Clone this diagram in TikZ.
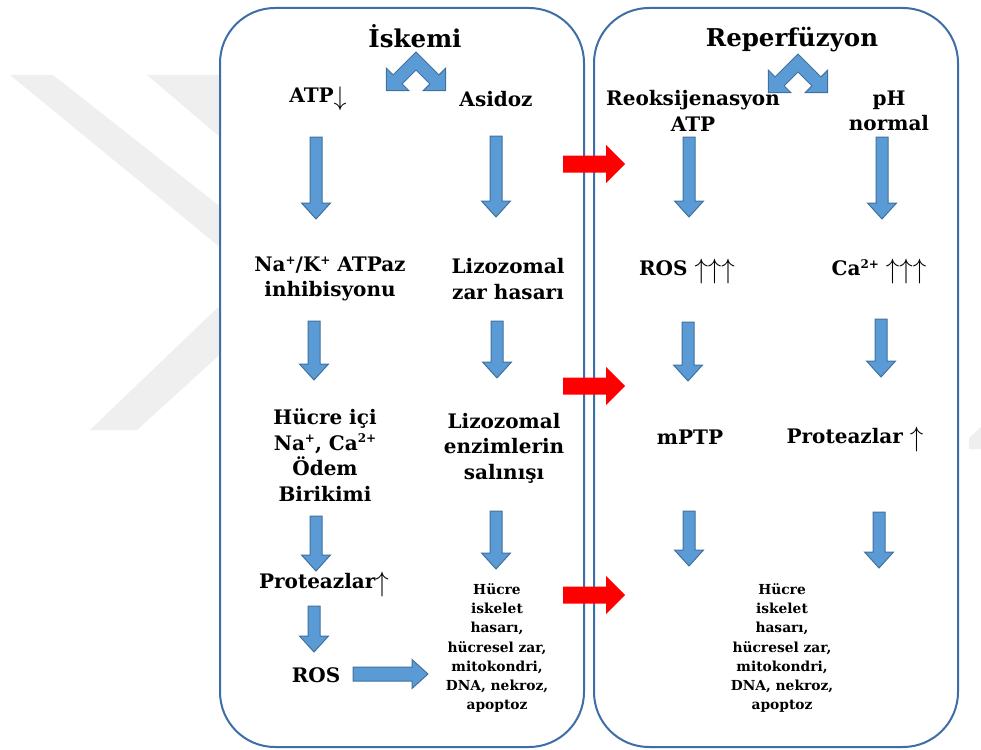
\documentclass[tikz,border=0pt]{standalone}
\usepackage{fontspec}
\usepackage{graphicx}
\setmainfont{DejaVu Serif}
\definecolor{barfill}{HTML}{5B9BD5}
\definecolor{barline}{HTML}{41719C}
\definecolor{panelline}{HTML}{3E6EA8}
\definecolor{wmark}{HTML}{EFEFEF}
\newcommand\bodyfs{\fontsize{20}{25.5}\selectfont\bfseries}
\newcommand\titlefs{\fontsize{24.5}{28}\selectfont\bfseries}
\newcommand\smallfs{\fontsize{13.8}{19.3}\selectfont\bfseries}
\newcommand\uarr{\raisebox{-0.12em}{\scalebox{1.3}[1.35]{$\uparrow$}}}
\newcommand\darr{\raisebox{-0.15em}{\scalebox{1.25}[1.3]{$\downarrow$}}}
\newcommand\supx[1]{\raisebox{0.36em}{\fontsize{12}{12}\selectfont #1}}
\newcommand\mkdown[3]{% x, ytop, ybottom
  \draw[blockarrow] ({#1-6},{#2}) -- ({#1+6},{#2}) -- ({#1+6},{#3-16}) -- ({#1+14.5},{#3-16})
    -- ({#1},{#3}) -- ({#1-14.5},{#3-16}) -- ({#1-6},{#3-16}) -- cycle;}
\newcommand\mkred[3]{% xstart, xtip, y
  \fill[red] ({#1},{#3-8.5}) -- ({#2-19},{#3-8.5}) -- ({#2-19},{#3-19}) -- ({#2},{#3})
    -- ({#2-19},{#3+19}) -- ({#2-19},{#3+8.5}) -- ({#1},{#3+8.5}) -- cycle;}
\newcommand\mkchev[2]{% cx, ytop
  \draw[blockarrow] ({#1},{#2}) -- ({#1-22.9},{#2+22.9}) -- ({#1-29.7},{#2+16.1}) -- ({#1-29.7},{#2+38.7})
    -- ({#1-7.1},{#2+38.7}) -- ({#1-13.9},{#2+31.9}) -- ({#1},{#2+18}) -- ({#1+13.9},{#2+31.9})
    -- ({#1+7.1},{#2+38.7}) -- ({#1+29.7},{#2+38.7}) -- ({#1+29.7},{#2+16.1}) -- ({#1+22.9},{#2+22.9}) -- cycle;}
\begin{document}
\begin{tikzpicture}[x=1pt,y=-1pt,
  blockarrow/.style={fill=barfill,draw=barline,line width=1pt,line join=miter},
  panel/.style={draw=panelline,line width=2pt,fill=white,rounded corners=55pt},
  body/.style={font=\bodyfs,align=center,inner sep=0pt,anchor=center},
  ttl/.style={font=\titlefs,align=center,inner sep=0pt},
  small/.style={font=\smallfs,align=center,inner sep=0pt}]
\useasboundingbox (0,0) rectangle (981,749);
\fill[white] (0,0) rectangle (981,749);
% watermark
\fill[wmark] (10,75) -- (53,75) -- (260,238) -- (260,280) -- cycle;
\fill[wmark] (147,75) -- (260,75) -- (260,171) -- cycle;
\fill[wmark] (90,430) -- (137,430) -- (260,318) -- (260,267) -- cycle;
\fill[wmark] (969,438) -- (981,427) -- (981,449) -- (969,449) -- cycle;
% panels
\draw[panel] (220,8) rectangle (584,747);
\draw[panel] (594,8) rectangle (958,747);
% titles
\node[ttl] (isk) at (415,36) {İskemi};
\node[ttl] (rep) at (792,40) {Reperfüzyon};
\mkchev{416}{52}
\mkchev{798}{54}
% left panel texts
\node[body] (atp) at (318,99) {ATP\darr};
\node[body] (asi) at (496,99) {Asidoz};
\node[body] (nak) at (330,279) {Na\supx{+}/K\supx{+} ATPaz\\inhibisyonu};
\node[body] (liz1) at (508,279) {Lizozomal\\zar hasarı};
\node[body] (hic) at (325,455) {Hücre içi\\Na\supx{+}, Ca\supx{2+}\\Ödem\\Birikimi};
\node[body] (liz2) at (504,448) {Lizozomal\\enzimlerin\\salınışı};
\node[body] (pro1) at (324,584) {Proteazlar\uarr};
\node[body] (ros1) at (316,675) {ROS};
\node[small] (dmg1) at (497,648) {Hücre\\iskelet\\hasarı,\\hücresel zar,\\mitokondri,\\DNA, nekroz,\\apoptoz};
% right panel texts
\node[body] (reo) at (693,111) {Reoksijenasyon\\ATP};
\node[body] (ph) at (889,111) {pH\\normal};
\node[body] (ros2) at (687,271) {ROS \uarr\uarr\uarr};
\node[body] (ca) at (879,271) {Ca\supx{2+} \uarr\uarr\uarr};
\node[body] (mptp) at (690,437) {mPTP};
\node[body] (pro2) at (855,439) {Proteazlar \uarr};
\node[small] (dmg2) at (782,648) {Hücre\\iskelet\\hasarı,\\hücresel zar,\\mitokondri,\\DNA, nekroz,\\apoptoz};
% blue arrows left
\mkdown{316}{137}{219}
\mkdown{314}{321}{380}
\mkdown{316}{516}{571}
\mkdown{314}{606}{652}
\mkdown{496}{136}{217}
\mkdown{497}{321}{378}
\mkdown{496}{511}{569}
% ROS horizontal arrow
\draw[blockarrow] (353,667) -- (412,667) -- (412,659.5) -- (428,674) -- (412,688.5) -- (412,681) -- (353,681) -- cycle;
% blue arrows right
\mkdown{689}{137}{217}
\mkdown{688}{322}{381}
\mkdown{689}{511}{566}
\mkdown{882}{137}{219}
\mkdown{881}{319}{377}
\mkdown{879}{512}{568}
% red arrows
\mkred{563}{625}{164}
\mkred{563}{625}{386}
\mkred{563}{625}{595}
\end{tikzpicture}
\end{document}
